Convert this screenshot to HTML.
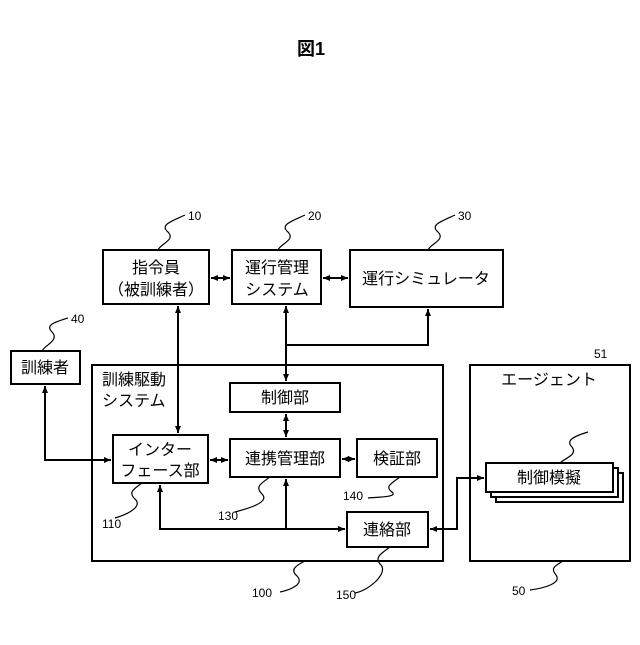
<!DOCTYPE html>
<html><head><meta charset="utf-8"><style>
html,body{margin:0;padding:0;background:#fff;}
svg text{font-family:"Liberation Sans","Noto Sans CJK JP",sans-serif;fill:#000;}
</style></head><body>
<svg width="640" height="640" viewBox="0 0 640 640" xmlns="http://www.w3.org/2000/svg">
<defs>
<marker id="a" markerWidth="8" markerHeight="8" refX="7" refY="4" orient="auto-start-reverse" markerUnits="userSpaceOnUse">
<path d="M0,1 L7,4 L0,7 z" fill="#000"/></marker>
</defs>
<g fill="none" stroke="#000" stroke-width="2">
<rect x="103" y="250" width="106" height="54"/>
<rect x="232" y="250" width="89" height="54"/>
<rect x="350" y="250" width="153" height="57"/>
<rect x="11" y="351" width="69" height="33"/>
<rect x="92" y="365" width="351" height="196"/>
<rect x="230" y="383" width="110" height="29"/>
<rect x="113" y="435" width="95" height="48"/>
<rect x="230" y="439" width="110" height="38"/>
<rect x="357" y="439" width="80" height="38"/>
<rect x="347" y="512" width="81" height="35"/>
<rect x="470" y="365" width="160" height="196"/>
<rect x="496" y="473" width="127" height="29" fill="#fff"/>
<rect x="491" y="468" width="127" height="29" fill="#fff"/>
<rect x="486" y="463" width="127" height="29" fill="#fff"/>
</g>
<g fill="none" stroke="#000" stroke-width="2">
<line x1="211" y1="278" x2="230" y2="278" marker-start="url(#a)" marker-end="url(#a)"/>
<line x1="323" y1="278" x2="348" y2="278" marker-start="url(#a)" marker-end="url(#a)"/>
<line x1="286" y1="306" x2="286" y2="381" marker-start="url(#a)" marker-end="url(#a)"/>
<polyline points="286,345 428,345 428,309" marker-end="url(#a)"/>
<line x1="178" y1="306" x2="178" y2="433" marker-start="url(#a)" marker-end="url(#a)"/>
<polyline points="45,386 45,460 111,460" marker-start="url(#a)" marker-end="url(#a)"/>
<line x1="286" y1="414" x2="286" y2="437" marker-start="url(#a)" marker-end="url(#a)"/>
<line x1="210" y1="460" x2="228" y2="460" marker-start="url(#a)" marker-end="url(#a)"/>
<line x1="342" y1="459" x2="355" y2="459" marker-start="url(#a)" marker-end="url(#a)"/>
<polyline points="160,485 160,529 345,529" marker-start="url(#a)" marker-end="url(#a)"/>
<line x1="286" y1="529" x2="286" y2="479" marker-end="url(#a)"/>
<polyline points="430,529 457,529 457,478 484,478" marker-start="url(#a)" marker-end="url(#a)"/>
</g>
<g fill="none" stroke="#000" stroke-width="1.2">
<path d="M185,215 C170,222 160,225 168,232 C176,240 160,244 158,250"/>
<path d="M305,215 C290,222 280,225 288,232 C296,240 280,244 278,250"/>
<path d="M455,215 C440,222 430,225 438,232 C446,240 430,244 428,250"/>
<path d="M68,318 C55,322 45,325 52,332 C60,340 45,345 42,351"/>
<path d="M588,432 C575,436 565,440 572,447 C578,455 565,458 560,463"/>
<path d="M142,483 C132,490 128,493 136,500 C142,508 125,515 115,518"/>
<path d="M270,477 C260,484 255,487 262,494 C270,502 250,508 235,512"/>
<path d="M400,477 C390,484 385,487 392,492 C398,497 380,497 368,498"/>
<path d="M305,561 C295,566 290,570 297,576 C305,584 290,590 280,592"/>
<path d="M390,547 C380,554 374,558 381,565 C388,573 370,590 355,593"/>
<path d="M563,561 C555,566 550,568 556,575 C562,583 545,588 530,590"/>
</g>
<g font-size="16" text-anchor="middle">
<text x="311" y="55" font-size="18" font-weight="bold">図1</text>
<text x="156" y="273">指令員</text>
<text x="156" y="295">（被訓練者）</text>
<text x="277" y="273">運行管理</text>
<text x="277" y="295">システム</text>
<text x="426" y="284">運行シミュレータ</text>
<text x="45" y="373">訓練者</text>
<text x="285" y="403">制御部</text>
<text x="160" y="455">インター</text>
<text x="160" y="476">フェース部</text>
<text x="285" y="464">連携管理部</text>
<text x="397" y="464">検証部</text>
<text x="387" y="535">連絡部</text>
<text x="549" y="385">エージェント</text>
<text x="549" y="483">制御模擬</text>
</g>
<text x="102" y="385" font-size="16">訓練駆動</text>
<text x="102" y="406" font-size="16">システム</text>
<g font-size="12">
<text x="188" y="220">10</text>
<text x="308" y="220">20</text>
<text x="458" y="220">30</text>
<text x="71" y="323">40</text>
<text x="594" y="358">51</text>
<text x="102" y="528">110</text>
<text x="218" y="520">130</text>
<text x="343" y="500">140</text>
<text x="252" y="597">100</text>
<text x="336" y="599">150</text>
<text x="512" y="595">50</text>
</g>
</svg>
</body></html>
